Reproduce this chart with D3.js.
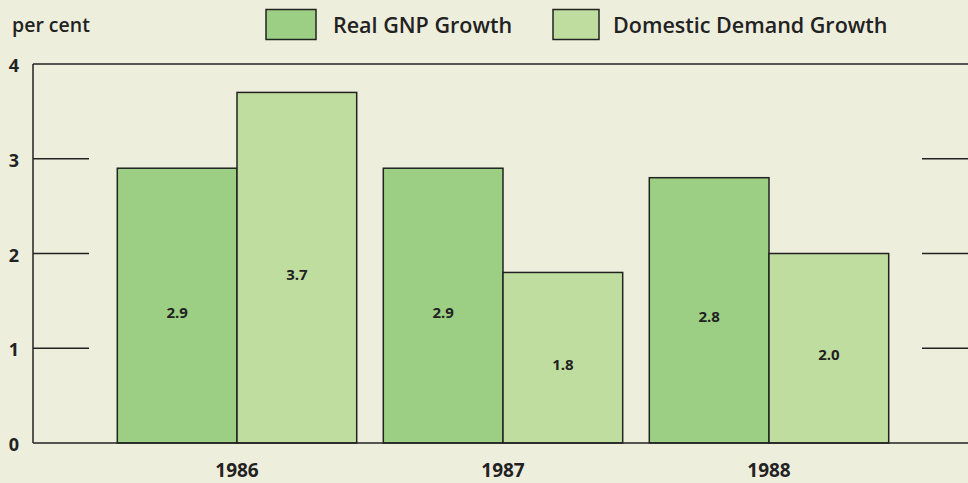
<!DOCTYPE html>
<html><head><meta charset="utf-8">
<script src="https://cdn.jsdelivr.net/npm/d3@7"></script>
<style>html,body{margin:0;padding:0;background:#eeeedd;}svg{display:block;}</style>
</head><body>
<script>
const years = ["1986", "1987", "1988"];
const seriesNames = ["Real GNP Growth", "Domestic Demand Growth"];
const gnpGrowth = [2.9, 2.9, 2.8];
const demandGrowth = [3.7, 1.8, 2.0];
const yTicks = [0, 1, 2, 3, 4];
const yLabel = "per cent";
const colors = ["#9ccf84", "#bfdd9f"];

const W = 968, H = 483;
const svg = d3.select("body").append("svg").attr("width", W).attr("height", H);
svg.append("rect").attr("width", W).attr("height", H).attr("fill", "#eeeedd");

const plotL = 33, plotR = 968, plotT = 64, plotB = 443;
const y = d3.scaleLinear().domain([0, 4]).range([plotB, plotT]);
const x = d3.scaleBand().domain(years).range([104, 902]).paddingInner(0.1).paddingOuter(0.05);
const xs = d3.scaleBand().domain([0, 1]).range([0, x.bandwidth()]);
const font = "'Open Sans', 'Noto Sans', sans-serif";
const ink = "#222";

const data = years.map((yr, i) => ({year: yr, vals: [gnpGrowth[i], demandGrowth[i]]}));

// bars
const g = svg.append("g");
data.forEach(d => {
  d.vals.forEach((v, k) => {
    const bx = x(d.year) + xs(k);
    g.append("rect").attr("x", bx).attr("y", y(v)).attr("width", xs.bandwidth()).attr("height", y(0) - y(v))
      .attr("fill", colors[k]).attr("stroke", ink).attr("stroke-width", 1.5);
    g.append("text").attr("x", bx + xs.bandwidth() / 2).attr("y", (y(v) + y(0)) / 2 + 12)
      .attr("text-anchor", "middle").attr("font-family", font).attr("font-weight", "700")
      .attr("font-size", 15).attr("fill", ink).text(v.toFixed(1));
  });
});

// frame lines
svg.append("line").attr("x1", plotL).attr("x2", plotR).attr("y1", y(4)).attr("y2", y(4)).attr("stroke", ink).attr("stroke-width", 1.5);
svg.append("line").attr("x1", plotL).attr("x2", plotR).attr("y1", y(0)).attr("y2", y(0)).attr("stroke", ink).attr("stroke-width", 1.5);
svg.append("line").attr("x1", plotL).attr("x2", plotL).attr("y1", y(4)).attr("y2", y(0)).attr("stroke", ink).attr("stroke-width", 1.5);

// short gridline segments
yTicks.filter(t => t > 0 && t < 4).forEach(t => {
  svg.append("line").attr("x1", plotL).attr("x2", 89).attr("y1", y(t)).attr("y2", y(t)).attr("stroke", ink).attr("stroke-width", 1.5);
  svg.append("line").attr("x1", 922).attr("x2", plotR).attr("y1", y(t)).attr("y2", y(t)).attr("stroke", ink).attr("stroke-width", 1.5);
});

// y tick labels
yTicks.forEach(t => {
  svg.append("text").attr("x", 14).attr("y", y(t) + 8).attr("text-anchor", "middle")
    .attr("font-family", font).attr("font-weight", "700").attr("font-size", 18).attr("fill", ink).text(t);
});

// x labels
years.forEach(yr => {
  svg.append("text").attr("x", x(yr) + x.bandwidth() / 2).attr("y", 477).attr("text-anchor", "middle")
    .attr("font-family", font).attr("font-weight", "700").attr("font-size", 19).attr("fill", ink).text(yr);
});

// y label
svg.append("text").attr("x", 12).attr("y", 32).attr("font-family", font).attr("font-weight", "600")
  .attr("font-size", 19.5).attr("fill", ink).text(yLabel);

// legend
const legendX = [266, 553], legendW = [50, 46], legendTextX = [333, 613];
seriesNames.forEach((s, k) => {
  svg.append("rect").attr("x", legendX[k]).attr("y", 9.5).attr("width", legendW[k]).attr("height", 30)
    .attr("fill", colors[k]).attr("stroke", ink).attr("stroke-width", 1.5);
  svg.append("text").attr("x", legendTextX[k]).attr("y", 33).attr("font-family", font).attr("font-weight", "600")
    .attr("font-size", 21.5).attr("fill", ink).text(s);
});
</script>
</body></html>
